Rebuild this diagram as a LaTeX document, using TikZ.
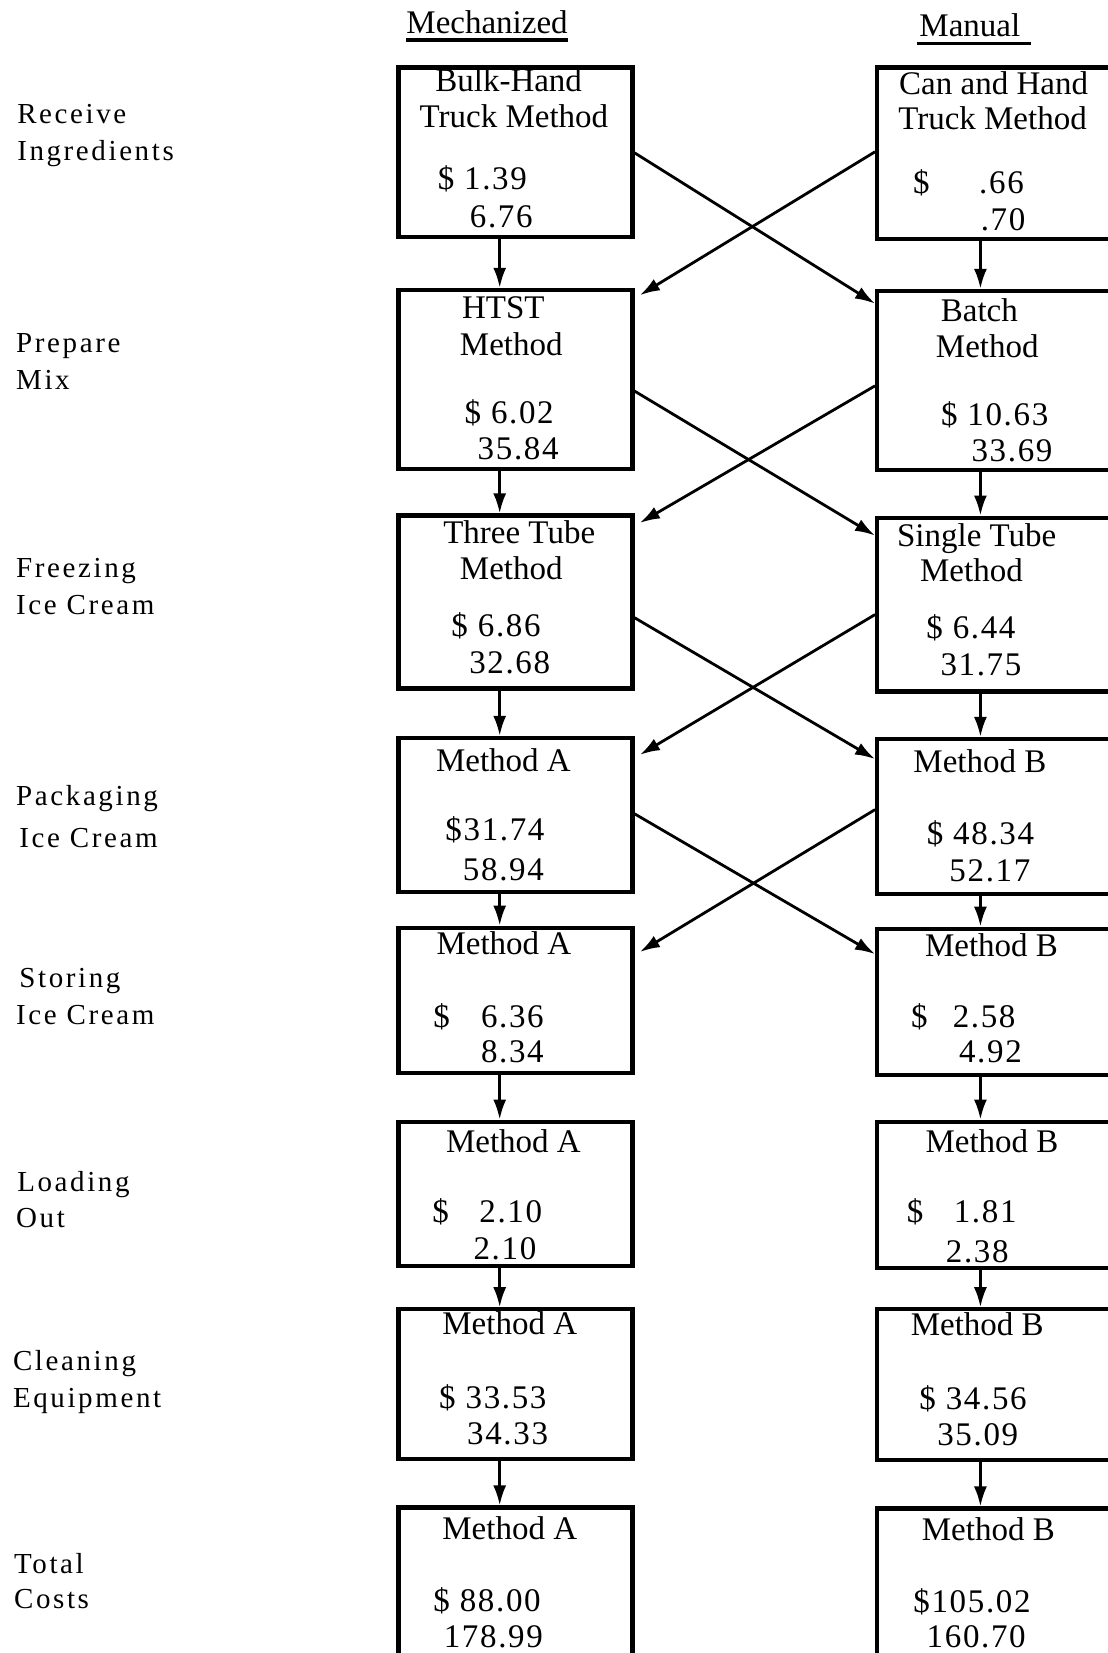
\documentclass[tikz,border=0pt]{standalone}
\usepackage{fontspec}
\setmainfont{Liberation Serif}
\newfontfamily\labelfont[LetterSpace=9]{Liberation Serif}
\newfontfamily\figfont[LetterSpace=5]{Liberation Serif}
\usetikzlibrary{arrows.meta,calc,fit}

\tikzset{
  boxframe/.style={draw, line width=2.1pt, inner sep=0pt},
  txt/.style={anchor=base, inner sep=0pt, font=\fontsize{16.5}{18}\selectfont},
  fig/.style={anchor=base, inner sep=0pt, font=\figfont\fontsize{16.5}{18}\selectfont},
  lab/.style={anchor=base west, inner sep=0pt, font=\labelfont\fontsize{14.5}{18}\selectfont},
  head/.style={anchor=base, inner sep=0pt, font=\fontsize{16.5}{18}\selectfont},
  uline/.style={line width=1.7pt},
  arr/.style={line width=1.4pt, -{Latex[length=10pt,width=6.5pt]}},
}

% a framed cost box spanning two corners
\newcommand\costbox[5]{%
  \coordinate (#1-nw) at (#2,#3);
  \coordinate (#1-se) at (#4,#5);
  \node[boxframe, fit=(#1-nw)(#1-se)] (#1) {};}

\begin{document}
\begin{tikzpicture}[x=0.5271pt, y=-0.5271pt]
\fill[white] (0,0) rectangle (1051,1568);
\useasboundingbox (0,0) rectangle (1051,1568);

% column headings
\node[head] (hmech) at (462,32) {Mechanized};
\node[head] (hman) at (920,35) {Manual};
\draw[uline] ($(hmech.base west)+(0,6)$) -- ($(hmech.base east)+(0,6)$);
\draw[uline] ($(hman.base west)+(-2,6)$) -- ($(hman.base east)+(10,6)$);

% operation labels
\node[lab] (lab1a) at (16,117) {Receive};
\node[lab] (lab1b) at (16,152) {Ingredients};
\node[lab] (lab2a) at (15,334) {Prepare};
\node[lab] (lab2b) at (15,369) {Mix};
\node[lab] (lab3a) at (15,548) {Freezing};
\node[lab] (lab3b) at (15,583) {Ice Cream};
\node[lab] (lab4a) at (15,764) {Packaging};
\node[lab] (lab4b) at (18,804) {Ice Cream};
\node[lab] (lab5a) at (18,937) {Storing};
\node[lab] (lab5b) at (15,972) {Ice Cream};
\node[lab] (lab6a) at (16,1130) {Loading};
\node[lab] (lab6b) at (15,1164) {Out};
\node[lab] (lab7a) at (12,1300) {Cleaning};
\node[lab] (lab7b) at (12,1335) {Equipment};
\node[lab] (lab8a) at (13,1493) {Total};
\node[lab] (lab8b) at (13,1526) {Costs};

% boxes: mechanized (L) and manual (R)
\costbox{L1}{378}{64}{600}{225}
\costbox{R1}{832}{64}{1075}{227}
\costbox{L2}{378}{275}{600}{445}
\costbox{R2}{832}{276}{1075}{446}
\costbox{L3}{378}{489}{600}{653}
\costbox{R3}{832}{491}{1075}{656}
\costbox{L4}{378}{700}{600}{846}
\costbox{R4}{832}{701}{1075}{848}
\costbox{L5}{378}{880}{600}{1018}
\costbox{R5}{832}{881}{1075}{1020}
\costbox{L6}{378}{1064}{600}{1201}
\costbox{R6}{832}{1064}{1075}{1203}
\costbox{L7}{378}{1242}{600}{1384}
\costbox{R7}{832}{1242}{1075}{1385}
\costbox{L8}{378}{1430}{600}{1600}
\costbox{R8}{832}{1431}{1075}{1600}

% box contents
\node[txt] (L1a) at (482.5,87) {Bulk-Hand};
\node[txt] (L1b) at (487.5,121) {Truck Method};
\node[fig] (L1c) at (457.5,180) {\$ 1.39};
\node[fig] (L1d) at (475.5,216) {6.76};

\node[txt] (R1a) at (942.5,90) {Can and Hand};
\node[txt] (R1b) at (941.5,123) {Truck Method};
\node[fig] (R1c) at (874,184) {\$};
\node[fig] (R1d) at (950,184) {.66};
\node[fig] (R1e) at (951.5,219) {.70};

\node[txt] (L2a) at (477.5,302) {HTST};
\node[txt] (L2b) at (485,337) {Method};
\node[fig] (L2c) at (483,402) {\$ 6.02};
\node[fig] (L2d) at (491.5,436) {35.84};

\node[txt] (R2a) at (929,305) {Batch};
\node[txt] (R2b) at (936.5,339) {Method};
\node[fig] (R2c) at (943.5,404) {\$ 10.63};
\node[fig] (R2d) at (960,438) {33.69};

\node[txt] (L3a) at (492.5,516) {Three Tube};
\node[txt] (L3b) at (485,550) {Method};
\node[fig] (L3c) at (470.5,604) {\$ 6.86};
\node[fig] (L3d) at (483.5,639) {32.68};

\node[txt] (R3a) at (926.5,518) {Single Tube};
\node[txt] (R3b) at (921.5,552) {Method};
\node[fig] (R3c) at (921,606) {\$ 6.44};
\node[fig] (R3d) at (930.5,641) {31.75};

\node[txt] (L4a) at (477.5,732) {Method A};
\node[fig] (L4c) at (469.5,797) {\$31.74};
\node[fig] (L4d) at (477.5,835) {58.94};

\node[txt] (R4a) at (929.5,733) {Method B};
\node[fig] (R4c) at (930,801) {\$ 48.34};
\node[fig] (R4d) at (939,836) {52.17};

\node[txt] (L5a) at (478,905) {Method A};
\node[fig] (L5b) at (419,975) {\$};
\node[fig] (L5c) at (486,975) {6.36};
\node[fig] (L5d) at (486,1008) {8.34};

\node[txt] (R5a) at (940.5,907) {Method B};
\node[fig] (R5b) at (872,975) {\$};
\node[fig] (R5c) at (933.5,975) {2.58};
\node[fig] (R5d) at (939.5,1008) {4.92};

\node[txt] (L6a) at (487,1093) {Method A};
\node[fig] (L6b) at (418,1160) {\$};
\node[fig] (L6c) at (484.5,1160) {2.10};
\node[fig] (L6d) at (479,1195) {2.10};

\node[txt] (R6a) at (941,1093) {Method B};
\node[fig] (R6b) at (868,1160) {\$};
\node[fig] (R6c) at (934.5,1160) {1.81};
\node[fig] (R6d) at (927,1198) {2.38};

\node[txt] (L7a) at (483.5,1266) {Method A};
\node[fig] (L7c) at (467.5,1336) {\$ 33.53};
\node[fig] (L7d) at (481.5,1370) {34.33};

\node[txt] (R7a) at (927,1267) {Method B};
\node[fig] (R7c) at (923,1337) {\$ 34.56};
\node[fig] (R7d) at (927.5,1371) {35.09};

\node[txt] (L8a) at (483.5,1460) {Method A};
\node[fig] (L8c) at (462,1529) {\$ 88.00};
\node[fig] (L8d) at (468,1563) {178.99};

\node[txt] (R8a) at (937.5,1461) {Method B};
\node[fig] (R8c) at (922,1530) {\$105.02};
\node[fig] (R8d) at (926,1563) {160.70};

% vertical flow within each column
\coordinate (cl) at (474,0);
\coordinate (cr) at (930,0);
\foreach \a/\b in {1/2,2/3,3/4,4/5,5/6,6/7,7/8}{
  \draw[arr] (L\a.south -| cl) -- (L\b.north -| cl);
  \draw[arr] (R\a.south -| cr) -- (R\b.north -| cr);
}

% crossing flows between columns
\draw[arr] ($(L1.north east)+(0,83)$) -- ($(R2.north west)+(0,14)$);
\draw[arr] ($(R1.north west)+(0,82)$) -- ($(L2.north east)+(5,7)$);
\draw[arr] ($(L2.north east)+(0,98)$) -- ($(R3.north west)+(0,19)$);
\draw[arr] ($(R2.north west)+(0,92)$) -- ($(L3.north east)+(5,9)$);
\draw[arr] ($(L3.north east)+(0,99)$) -- ($(R4.north west)+(0,21)$);
\draw[arr] ($(R3.north west)+(0,94)$) -- ($(L4.north east)+(5,18)$);
\draw[arr] ($(L4.north east)+(0,74)$) -- ($(R5.north west)+(0,26)$);
\draw[arr] ($(R4.north west)+(0,69)$) -- ($(L5.north east)+(5,25)$);
\end{tikzpicture}
\end{document}
